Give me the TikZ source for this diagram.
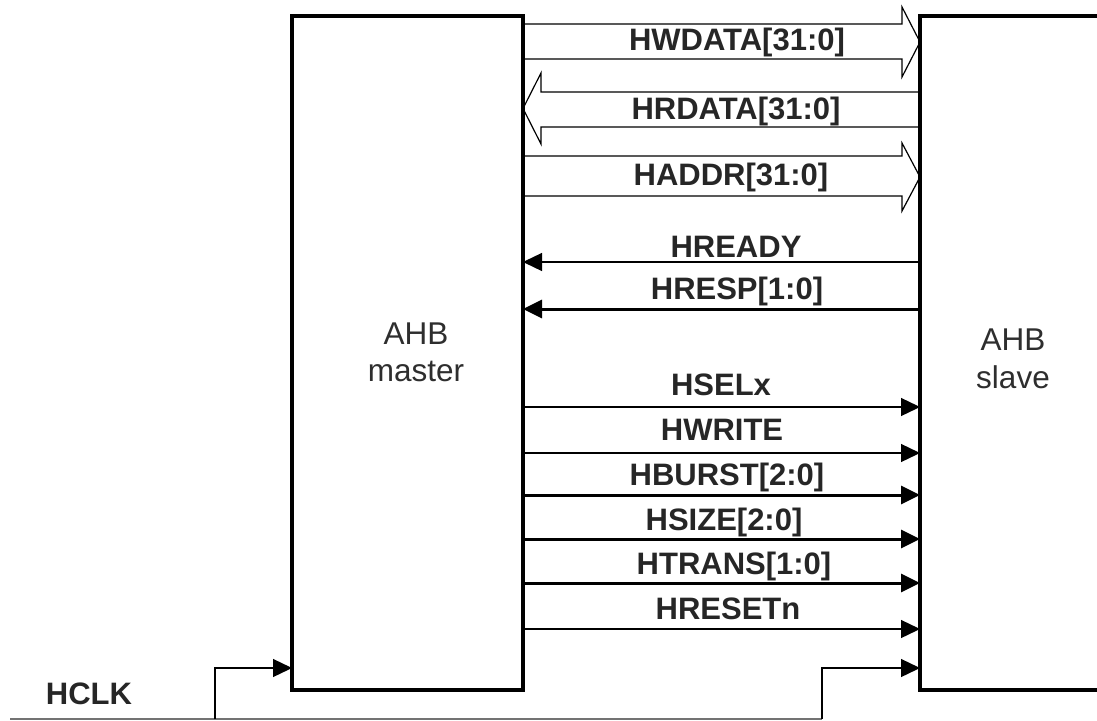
\documentclass[tikz,border=0pt]{standalone}
\usepackage{fontspec}
\setmainfont{Liberation Sans}
\usetikzlibrary{arrows.meta}
\begin{document}
\begin{tikzpicture}[x=1pt,y=-1pt,
  block/.style={draw, line width=4pt, minimum width=231pt, minimum height=674pt, anchor=north west, inner sep=0pt, outer sep=0pt},
  lbl/.style={font=\fontsize{31}{33}\selectfont\bfseries, text=black!85, anchor=base, inner sep=0pt},
  boxlbl/.style={text=black!82, align=center, inner sep=0pt},
  sigthin/.style={line width=1.3pt, -{Triangle[length=19pt,width=18pt]}},
  sigthick/.style={line width=3pt, -{Triangle[length=19pt,width=18pt]}},
  bus/.style={line width=1.2pt, line join=miter},
  clkbase/.style={line width=1.4pt, draw=black!55}
]
\useasboundingbox (0,0) rectangle (1097,720);
\clip (0,0) rectangle (1097,720);

% blocks
\node[block] (master) at (292,16) {};
\node[block, minimum width=190pt] (slave) at (920,16) {};
\node[boxlbl, font=\fontsize{31.5}{37}\selectfont] (mlbl) at (416,352) {AHB\\master};
\node[boxlbl, font=\fontsize{31.5}{38}\selectfont] (slbl) at (1013,358.5) {AHB\\slave};

% buses
\draw[bus] (master.east |- 0,24) -- (902,24) -- (902,7) -- (slave.west |- 0,42) -- (902,77) -- (902,59) -- (master.east |- 0,59);
\draw[bus] (slave.west |- 0,92) -- (541,92) -- (541,73) -- (master.east |- 0,108.5) -- (541,144) -- (541,127) -- (slave.west |- 0,127);
\draw[bus] (master.east |- 0,156) -- (902,156) -- (902,143) -- (slave.west |- 0,177) -- (902,211) -- (902,196) -- (master.east |- 0,196);

\node[lbl] (lwdata) at (737,50) {HWDATA[31:0]};
\node[lbl] (lrdata) at (736,119) {HRDATA[31:0]};
\node[lbl] (laddr) at (731,185) {HADDR[31:0]};

% slave -> master
\draw[sigthin] (slave.west |- 0,262) -- (master.east |- 0,262);
\draw[sigthick] (slave.west |- 0,309) -- (master.east |- 0,309);
\node[lbl] (lready) at (736,257) {HREADY};
\node[lbl] (lresp) at (737,299) {HRESP[1:0]};

% master -> slave
\draw[sigthin] (master.east |- 0,407) -- (slave.west |- 0,407);
\draw[sigthin] (master.east |- 0,453) -- (slave.west |- 0,453);
\draw[sigthick] (master.east |- 0,495) -- (slave.west |- 0,495);
\draw[sigthick] (master.east |- 0,539) -- (slave.west |- 0,539);
\draw[sigthick] (master.east |- 0,583) -- (slave.west |- 0,583);
\draw[sigthin] (master.east |- 0,629) -- (slave.west |- 0,629);
\node[lbl] (lsel) at (721,395) {HSELx};
\node[lbl] (lwrite) at (722,440) {HWRITE};
\node[lbl] (lburst) at (727,485) {HBURST[2:0]};
\node[lbl] (lsize) at (724,530) {HSIZE[2:0]};
\node[lbl] (ltrans) at (734,574) {HTRANS[1:0]};
\node[lbl] (lreset) at (728,619) {HRESETn};

% clock
\coordinate (clkin) at (10,719);
\coordinate (c1) at (215,719);
\coordinate (c2) at (822,719);
\draw[clkbase] (clkin) -- (c2);
\draw[sigthin] (c1) -- (c1 |- 0,668) -- (master.west |- 0,668);
\draw[sigthin] (c2) -- (c2 |- 0,668) -- (slave.west |- 0,668);
\node[lbl] (lclk) at (89,704) {HCLK};
\end{tikzpicture}
\end{document}
